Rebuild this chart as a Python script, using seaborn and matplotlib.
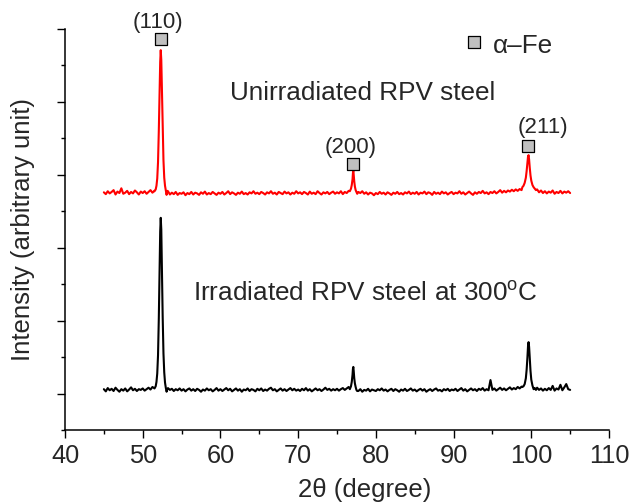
import numpy as np
import pandas as pd
import matplotlib
matplotlib.use("Agg")
import matplotlib.pyplot as plt
import seaborn as sns

# ---------------- data ----------------
grid_start, grid_step = 45.0, 0.25   # baseline sampling of the scans (45..105 deg)

red_baseline = [
    6.52, 6.47, 6.55, 6.49, 6.53, 6.58, 6.46, 6.54, 6.50, 6.63, 6.48, 6.51, 6.56, 6.47, 6.53, 6.49, 6.57, 6.52, 6.46, 6.54,
    6.50, 6.55, 6.48, 6.53, 6.58, 6.51, 6.56, 6.60, 6.55, 6.62, 6.58, 6.52, 6.48, 6.55, 6.46, 6.51, 6.47, 6.53, 6.45, 6.50,
    6.48, 6.52, 6.44, 6.50, 6.47, 6.53, 6.46, 6.51, 6.49, 6.45, 6.52, 6.48, 6.54, 6.46, 6.50, 6.47, 6.53, 6.49, 6.45, 6.51,
    6.48, 6.53, 6.46, 6.50, 6.55, 6.47, 6.52, 6.49, 6.45, 6.51, 6.48, 6.54, 6.47, 6.50, 6.46, 6.52, 6.49, 6.55, 6.48, 6.51,
    6.47, 6.53, 6.50, 6.46, 6.52, 6.49, 6.55, 6.48, 6.51, 6.46, 6.53, 6.50, 6.47, 6.54, 6.49, 6.52, 6.46, 6.51, 6.48, 6.55,
    6.49, 6.52, 6.47, 6.53, 6.50, 6.46, 6.54, 6.48, 6.51, 6.47, 6.55, 6.50, 6.46, 6.52, 6.49, 6.53, 6.47, 6.51, 6.54, 6.48,
    6.52, 6.49, 6.55, 6.47, 6.53, 6.50, 6.56, 6.51, 6.57, 6.52, 6.58, 6.53, 6.50, 6.55, 6.48, 6.52, 6.46, 6.51, 6.49, 6.44,
    6.50, 6.47, 6.53, 6.48, 6.51, 6.46, 6.52, 6.49, 6.45, 6.51, 6.48, 6.53, 6.47, 6.50, 6.46, 6.52, 6.49, 6.54, 6.47, 6.51,
    6.48, 6.53, 6.46, 6.51, 6.49, 6.54, 6.47, 6.52, 6.50, 6.45, 6.53, 6.48, 6.51, 6.47, 6.54, 6.49, 6.52, 6.46, 6.50, 6.53,
    6.47, 6.51, 6.49, 6.55, 6.48, 6.52, 6.46, 6.50, 6.54, 6.49, 6.45, 6.52, 6.48, 6.53, 6.50, 6.56, 6.49, 6.52, 6.47, 6.53,
    6.50, 6.55, 6.49, 6.53, 6.58, 6.51, 6.56, 6.52, 6.57, 6.54, 6.59, 6.55, 6.60, 6.56, 6.61, 6.58, 6.63, 6.60, 6.66, 6.70,
    6.62, 6.58, 6.55, 6.60, 6.52, 6.57, 6.50, 6.55, 6.49, 6.54, 6.51, 6.57, 6.48, 6.53, 6.50, 6.56, 6.49, 6.54, 6.51, 6.55,
    6.50,
]

black_baseline = [
    1.12, 1.06, 1.15, 1.09, 1.13, 1.07, 1.16, 1.10, 1.05, 1.12, 1.08, 1.14, 1.06, 1.11, 1.17, 1.09, 1.13, 1.07, 1.12, 1.10,
    1.14, 1.08, 1.12, 1.16, 1.11, 1.18, 1.14, 1.20, 1.15, 1.12, 1.18, 1.13, 1.09, 1.15, 1.10, 1.13, 1.07, 1.12, 1.09, 1.14,
    1.08, 1.12, 1.06, 1.11, 1.14, 1.08, 1.12, 1.07, 1.13, 1.10, 1.05, 1.11, 1.08, 1.14, 1.09, 1.12, 1.06, 1.10, 1.15, 1.08,
    1.12, 1.07, 1.11, 1.15, 1.09, 1.13, 1.06, 1.10, 1.14, 1.08, 1.12, 1.05, 1.11, 1.09, 1.14, 1.07, 1.12, 1.10, 1.06, 1.13,
    1.09, 1.14, 1.07, 1.11, 1.08, 1.13, 1.16, 1.09, 1.12, 1.06, 1.10, 1.14, 1.08, 1.12, 1.07, 1.11, 1.15, 1.09, 1.13, 1.08,
    1.11, 1.07, 1.13, 1.09, 1.15, 1.08, 1.12, 1.06, 1.10, 1.14, 1.09, 1.12, 1.07, 1.11, 1.16, 1.10, 1.13, 1.08, 1.12, 1.09,
    1.13, 1.08, 1.12, 1.15, 1.10, 1.14, 1.18, 1.12, 1.20, 1.14, 1.10, 1.07, 1.12, 1.05, 1.10, 1.08, 1.13, 1.06, 1.11, 1.09,
    1.07, 1.12, 1.09, 1.14, 1.08, 1.11, 1.06, 1.10, 1.13, 1.07, 1.12, 1.09, 1.05, 1.11, 1.08, 1.13, 1.07, 1.10, 1.14, 1.08,
    1.11, 1.06, 1.10, 1.13, 1.08, 1.12, 1.05, 1.09, 1.12, 1.07, 1.11, 1.14, 1.08, 1.10, 1.06, 1.12, 1.09, 1.13, 1.07, 1.11,
    1.09, 1.13, 1.07, 1.11, 1.15, 1.08, 1.12, 1.06, 1.10, 1.14, 1.09, 1.12, 1.07, 1.13, 1.10, 1.15, 1.08, 1.12, 1.09, 1.37,
    1.10, 1.14, 1.08, 1.12, 1.16, 1.10, 1.14, 1.09, 1.13, 1.17, 1.11, 1.15, 1.12, 1.18, 1.14, 1.19, 1.16, 1.21, 1.18, 1.25,
    1.20, 1.15, 1.11, 1.16, 1.10, 1.14, 1.08, 1.13, 1.09, 1.15, 1.10, 1.21, 1.08, 1.14, 1.11, 1.24, 1.09, 1.17, 1.26, 1.12,
    1.10,
]

# peak regions (2theta, intensity)
p110_x = [51.52, 51.67, 51.77, 51.87, 51.97, 52.07, 52.17, 52.25, 52.32, 52.39,
          52.47, 52.57, 52.67, 52.77, 52.87, 52.97, 53.07, 53.17]
red_p110_y = [6.55, 6.60, 6.70, 6.90, 7.35, 8.20, 9.30, 10.10, 10.42, 10.15,
              9.35, 8.25, 7.40, 6.92, 6.70, 6.58, 6.45, 6.56]
black_p110_y = [1.14, 1.20, 1.32, 1.55, 2.05, 3.05, 4.40, 5.45, 5.82, 5.50,
                4.45, 3.10, 2.10, 1.58, 1.30, 1.16, 1.05, 1.12]

p200_x = [76.65, 76.8, 76.9, 77.0, 77.05, 77.1, 77.15, 77.22, 77.3, 77.4, 77.5, 77.6]
red_p200_y = [6.55, 6.62, 6.72, 6.88, 7.05, 7.13, 7.00, 6.82, 6.68, 6.58, 6.53, 6.48]
black_p200_y = [1.12, 1.20, 1.32, 1.52, 1.68, 1.73, 1.62, 1.42, 1.28, 1.18, 1.10, 1.07]

p211_x = [98.85, 99.0, 99.15, 99.3, 99.4, 99.5, 99.58, 99.65, 99.72, 99.8,
          99.9, 100.0, 100.15, 100.3, 100.45, 100.6]
red_p211_y = [6.66, 6.70, 6.78, 6.92, 7.10, 7.32, 7.50, 7.54, 7.42, 7.20,
              6.98, 6.84, 6.72, 6.66, 6.62, 6.58]
black_p211_y = [1.18, 1.20, 1.26, 1.42, 1.65, 1.98, 2.30, 2.41, 2.28, 1.98,
                1.62, 1.38, 1.22, 1.12, 1.15, 1.10]

peak_labels = ["(110)", "(200)", "(211)"]
x_ticks = [40, 50, 60, 70, 80, 90, 100, 110]


def build_trace(baseline, peaks):
    xg = grid_start + grid_step * np.arange(len(baseline))
    yg = np.asarray(baseline, dtype=float)
    keep = np.ones(len(xg), dtype=bool)
    for px, _ in peaks:
        keep &= ~((xg >= min(px)) & (xg <= max(px)))
    xs = [xg[keep]] + [np.asarray(px, float) for px, _ in peaks]
    ys = [yg[keep]] + [np.asarray(py, float) for _, py in peaks]
    x = np.concatenate(xs)
    y = np.concatenate(ys)
    order = np.argsort(x)
    return pd.DataFrame({"two_theta": x[order], "intensity": y[order]})


red_df = build_trace(red_baseline, [(p110_x, red_p110_y), (p200_x, red_p200_y), (p211_x, red_p211_y)])
black_df = build_trace(black_baseline, [(p110_x, black_p110_y), (p200_x, black_p200_y), (p211_x, black_p211_y)])

# ---------------- figure ----------------
sns.set_style("ticks")
plt.rcParams["font.family"] = ["Liberation Sans", "DejaVu Sans"]
plt.rcParams["mathtext.fontset"] = "custom"
plt.rcParams["mathtext.rm"] = "Liberation Sans"

fig = plt.figure(figsize=(6.32, 5.04), dpi=100)
ax = fig.add_axes([65 / 632, 1 - 430 / 504, 544 / 632, 401 / 504])

sns.lineplot(data=red_df, x="two_theta", y="intensity", color="#ff0000",
             linewidth=1.5, estimator=None, sort=False, ax=ax)
sns.lineplot(data=black_df, x="two_theta", y="intensity", color="black",
             linewidth=1.5, estimator=None, sort=False, ax=ax)

ax.set_xlim(40, 110)
ax.set_ylim(0, 11)
ax.set_xticks(x_ticks)
ax.set_xticks([45, 55, 65, 75, 85, 95, 105], minor=True)
ax.set_yticks([1, 3, 5, 7, 9, 11])
ax.set_yticks([0, 2, 4, 6, 8, 10], minor=True)
ax.set_yticklabels([])
ax.tick_params(axis="both", which="major", direction="out", length=5.8, width=1.0,
               color="black", labelsize=18.3, pad=4.5)
ax.tick_params(axis="both", which="minor", direction="out", length=2.6, width=1.0, color="black")
for s in ["left", "bottom"]:
    ax.spines[s].set_linewidth(1.1)
    ax.spines[s].set_color("black")
sns.despine(ax=ax)

ax.set_xlabel("2θ (degree)", fontsize=18.5)
ax.xaxis.set_label_coords((365 - 65) / 544, -(478 - 430) / 401)
ax.xaxis.label.set_va("top")
ax.set_ylabel("Intensity (arbitrary unit)", fontsize=18.5, labelpad=11)

# peak annotations
sq = dict(marker="s", s=70, facecolor="#c0c0c0", edgecolor="black", linewidth=0.9,
          zorder=5, clip_on=False)
ann = [((51.9, 11.03), (52.36, 10.73)),
       ((76.8, 7.60), (77.1, 7.29)),
       ((101.5, 8.15), (99.6, 7.80))]
for lab, ((tx, ty), (mx, my)) in zip(peak_labels, ann):
    ax.scatter([mx], [my], **sq)
    ax.text(tx, ty, lab, fontsize=16, ha="center", va="baseline", clip_on=False)

# legend-like marker
ax.scatter([92.64], [10.65], **sq)
ax.text(95.05, 10.34, "α–Fe", fontsize=18.8, ha="left", va="baseline")

ax.text(61.24, 9.05, "Unirradiated RPV steel", fontsize=18.8, ha="left", va="baseline")
ax.text(56.47, 3.55, r"Irradiated RPV steel at 300$^{\rm o}$C", fontsize=18.8,
        ha="left", va="baseline")

fig.savefig("out.png", dpi=100)
